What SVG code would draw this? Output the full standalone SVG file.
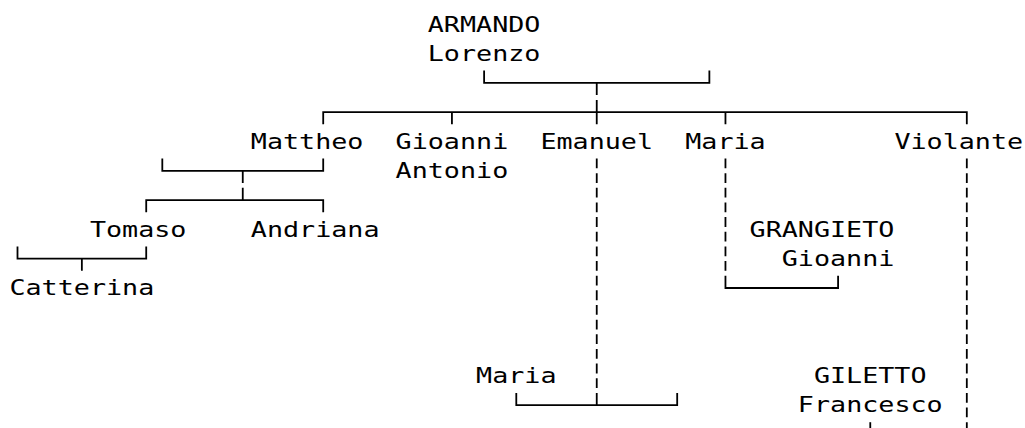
<svg xmlns="http://www.w3.org/2000/svg" width="1025" height="428" viewBox="0 0 1025 428">
<style>
text{font-family:"DejaVu Sans Mono",monospace;font-size:21px;fill:#000;}
.c{fill:none;stroke:#000;stroke-width:1.8;}
.d{fill:none;stroke:#000;stroke-width:1.8;stroke-dasharray:9.8 4.85;}
</style>
<rect width="1025" height="428" fill="#fff"/>
<g id="connectors">
<path class="c" d="M484.11 70.6V82.9H709.37V70.6M596.74 82.9V95.05"/>
<path class="c" d="M323.21 124.35V112.2H966.81V124.35M451.93 112.2V124.35M596.74 99.9V124.35M725.46 112.2V124.35"/>
<path class="c" d="M162.31 158.5V170.8H323.21V158.5M242.76 170.8V182.95"/>
<path class="c" d="M146.22 212.25V200.1H323.21V212.25M242.76 187.8V200.1"/>
<path class="c" d="M17.5 246.4V258.7H146.22V246.4M81.86 258.7V270.85"/>
<path class="c" d="M725.46 275.7V288H838.09V275.7"/>
<path class="c" d="M516.29 392.9V405.2H677.19V392.9M596.74 392.9V405.2"/>
<path class="c" d="M870.27 422.2V440"/>
<path class="d" d="M596.74 158.5V388.05"/>
<path class="d" d="M725.46 158.5V270.85"/>
<path class="d" d="M966.81 158.5V466"/>
</g>
<g id="armando-lorenzo"><text x="427.79" y="31.5" textLength="112.63" lengthAdjust="spacingAndGlyphs">ARMANDO</text><text x="427.79" y="60.8" textLength="112.63" lengthAdjust="spacingAndGlyphs">Lorenzo</text></g>
<g id="mattheo"><text x="250.8" y="148.7" textLength="112.63" lengthAdjust="spacingAndGlyphs">Mattheo</text></g>
<g id="gioanni-antonio"><text x="395.61" y="148.7" textLength="112.63" lengthAdjust="spacingAndGlyphs">Gioanni</text><text x="395.61" y="178" textLength="112.63" lengthAdjust="spacingAndGlyphs">Antonio</text></g>
<g id="emanuel"><text x="540.42" y="148.7" textLength="112.63" lengthAdjust="spacingAndGlyphs">Emanuel</text></g>
<g id="maria"><text x="685.23" y="148.7" textLength="80.45" lengthAdjust="spacingAndGlyphs">Maria</text></g>
<g id="violante"><text x="894.4" y="148.7" textLength="128.72" lengthAdjust="spacingAndGlyphs">Violante</text></g>
<g id="tomaso"><text x="89.9" y="236.6" textLength="96.54" lengthAdjust="spacingAndGlyphs">Tomaso</text></g>
<g id="andriana"><text x="250.8" y="236.6" textLength="128.72" lengthAdjust="spacingAndGlyphs">Andriana</text></g>
<g id="catterina"><text x="9.45" y="295.2" textLength="144.81" lengthAdjust="spacingAndGlyphs">Catterina</text></g>
<g id="grangieto-gioanni"><text x="749.59" y="236.6" textLength="144.81" lengthAdjust="spacingAndGlyphs">GRANGIETO</text><text x="781.77" y="265.9" textLength="112.63" lengthAdjust="spacingAndGlyphs">Gioanni</text></g>
<g id="maria-2"><text x="476.06" y="383.1" textLength="80.45" lengthAdjust="spacingAndGlyphs">Maria</text></g>
<g id="giletto-francesco"><text x="813.95" y="383.1" textLength="112.63" lengthAdjust="spacingAndGlyphs">GILETTO</text><text x="797.86" y="412.4" textLength="144.81" lengthAdjust="spacingAndGlyphs">Francesco</text></g>
</svg>
